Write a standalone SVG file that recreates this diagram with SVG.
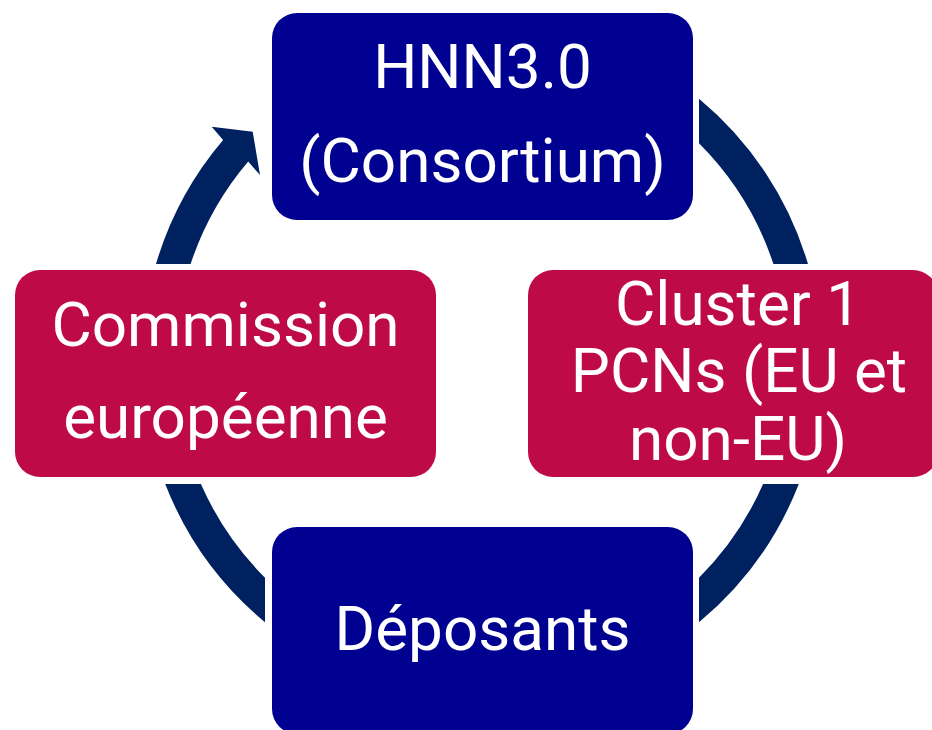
<svg xmlns="http://www.w3.org/2000/svg" width="932" height="730" viewBox="0 0 932 730">
<style>
.arc{fill:#00215F;}
.blue{fill:#000091;}
.pink{fill:#BF0A48;}
.t{fill:#ffffff;font-family:Roboto,"Liberation Sans",sans-serif;font-size:62px;text-anchor:middle;}
</style>
<rect width="932" height="730" fill="#ffffff"/>
<g id="connectors">
<path class="arc" d="M 156,264 A 340 340 0 0 1 223.1,140.1 L 211.7,126.7 L 252.7,131.7 L 260,175 L 248.2,161.5 A 307 307 0 0 0 190.6,264 Z"/>
<path class="arc" d="M 699,98.8 A 340 340 0 0 1 808,264 L 773.4,264 A 307 307 0 0 0 699,143.3 Z"/>
<path class="arc" d="M 798.8,484 A 340 340 0 0 1 699,622.2 L 699,577.7 A 307 307 0 0 0 763.1,484 Z"/>
<path class="arc" d="M 265,622.2 A 340 340 0 0 1 165.2,484 L 200.9,484 A 307 307 0 0 0 265,577.7 Z"/>
</g>
<g id="node-hnn">
<rect class="blue" x="272" y="13" width="421" height="207" rx="25"/>
<text class="t" x="482.5" y="88">HNN3.0</text>
<text class="t" x="482.5" y="182">(Consortium)</text>
</g>
<g id="node-cluster">
<rect class="pink" x="528" y="270" width="410" height="207" rx="25"/>
<text class="t" x="738" y="325">Cluster 1</text>
<text class="t" x="739" y="392">PCNs (EU et</text>
<text class="t" x="738" y="460">non-EU)</text>
</g>
<g id="node-deposants">
<rect class="blue" x="272" y="527" width="421" height="207" rx="25"/>
<text class="t" x="482.5" y="650">Déposants</text>
</g>
<g id="node-commission">
<rect class="pink" x="15" y="270" width="421" height="207" rx="25"/>
<text class="t" x="225.5" y="346">Commission</text>
<text class="t" x="225.5" y="438">européenne</text>
</g>
</svg>
